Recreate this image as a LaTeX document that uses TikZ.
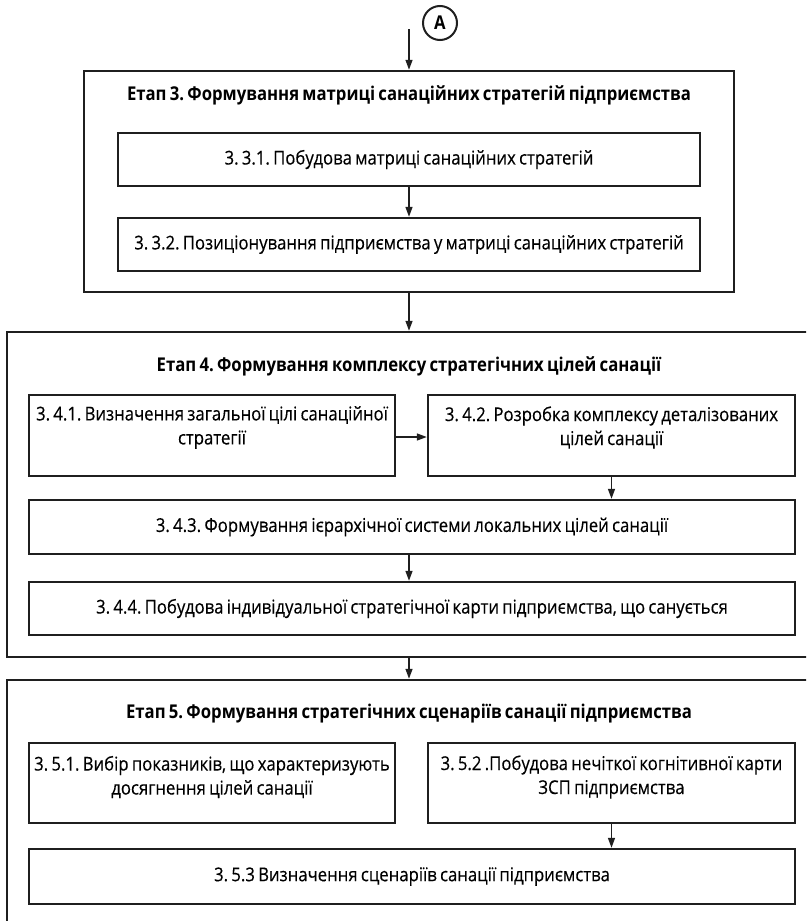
\documentclass[tikz,border=0pt]{standalone}
\usepackage{fontspec}
\setmainfont{Open Sans}[FakeStretch=0.88, WordSpace=0.75,
  UprightFeatures={FakeBold=0.3}, BoldFeatures={FakeBold=0}]
\usetikzlibrary{arrows.meta}
\frenchspacing

\begin{document}
\begin{tikzpicture}[x=1pt,y=-1pt,
  ink/.style={draw=black!88},
  frame/.style={ink, line width=2.5pt, inner sep=0pt},
  stepbox/.style={ink, line width=2.4pt, inner sep=0pt, align=center,
    font=\fontsize{19}{24}\selectfont},
  steptext/.style={inner sep=0pt, align=center, font=\fontsize{19}{24}\selectfont},
  stagetitle/.style={inner sep=0pt, font=\bfseries\fontsize{19}{22}\selectfont},
  flow/.style={ink, line width=1.5pt, -{Triangle[length=10pt,width=7pt]}}
]
\useasboundingbox (0,0) rectangle (806,921);
\clip (0,0) rectangle (806,921);

% entry marker
\node[ink, circle, line width=2pt, minimum size=34pt, inner sep=0pt,
  font=\bfseries\fontsize{19}{20}\selectfont] (mA) at (440,23) {A};
\coordinate (entry) at (409,29);

% stage 3
\node[frame, minimum width=650pt, minimum height=221pt] (s3) at (409,181.5) {};
\node[stagetitle] (t3) at (409,95) {Етап 3. Формування матриці санаційних стратегій підприємства};
\node[stepbox, minimum width=582pt, minimum height=53pt] (b331) at (409,159.5)
  {3. 3.1. Побудова матриці санаційних стратегій};
\node[stepbox, minimum width=582pt, minimum height=53pt] (b332) at (409,244.5)
  {3. 3.2. Позиціонування підприємства у матриці санаційних стратегій};

% stage 4
\node[frame, minimum width=810pt, minimum height=325pt] (s4) at (412,494.5) {};
\node[stagetitle] (t4) at (409,366) {Етап 4. Формування комплексу стратегічних цілей санації};
\node[stepbox, minimum width=366pt, minimum height=81pt] (b341) at (212,435.5) {};
\node[steptext] (l341) at ([yshift=8pt]b341.center)
  {3. 4.1. Визначення загальної цілі санаційної\\стратегії};
\node[stepbox, minimum width=367pt, minimum height=81pt] (b342) at (611.5,435.5) {};
\node[steptext] (l342) at ([yshift=8pt]b342.center)
  {3. 4.2. Розробка комплексу деталізованих\\цілей санації};
\node[stepbox, minimum width=766pt, minimum height=54pt] (b343) at (412,527)
  {3. 4.3. Формування ієрархічної системи локальних цілей санації};
\node[stepbox, minimum width=766pt, minimum height=53pt] (b344) at (412,608.5)
  {3. 4.4. Побудова індивідуальної стратегічної карти підприємства, що санується};

% stage 5
\node[frame, minimum width=810pt, minimum height=265pt] (s5) at (412,812.5) {};
\node[stagetitle] (t5) at (409,714) {Етап 5. Формування стратегічних сценаріїв санації підприємства};
\node[stepbox, minimum width=366pt, minimum height=80pt] (b351) at (212,783) {};
\node[steptext] (l351) at ([yshift=6pt]b351.center)
  {3. 5.1. Вибір показників, що характеризують\\досягнення цілей санації};
\node[stepbox, minimum width=367pt, minimum height=80pt] (b352) at (611.5,783) {};
\node[steptext] (l352) at ([yshift=6pt]b352.center)
  {3. 5.2 .Побудова нечіткої когнітивної карти\\ЗСП підприємства};
\node[stepbox, minimum width=766pt, minimum height=55pt] (b353) at (412,876.5)
  {3. 5.3 Визначення сценаріїв санації підприємства};

% connectors
\draw[flow] (entry) -- (entry |- s3.north);
\draw[flow] (b331) -- (b332);
\draw[flow] (s3.south) -- (s3.south |- s4.north);
\draw[flow] (b341.east |- 0,437) -- (b342.west |- 0,437);
\draw[flow] (b342.south) -- (b342.south |- b343.north);
\draw[flow] (b343.south -| s3.south) -- (b344.north -| s3.south);
\draw[flow] (s4.south -| s3.south) -- (s5.north -| s3.south);
\draw[flow] (b352.south) -- (b352.south |- b353.north);
\end{tikzpicture}
\end{document}
